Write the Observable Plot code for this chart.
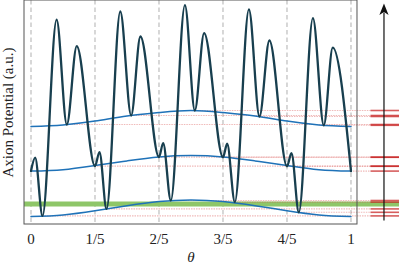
<!DOCTYPE html>
<html><head><meta charset="utf-8">
<script src="https://cdn.jsdelivr.net/npm/d3@7"></script>
<script src="https://cdn.jsdelivr.net/npm/@observablehq/plot@0.6"></script>
<style>
html,body{margin:0;padding:0;background:#fff;}
svg{display:block;}
svg text{font-family:'Liberation Serif', serif;}
</style></head><body><div id="chart"></div>
<script>
// ---- data ----
const thetaTicks = [0, 0.2, 0.4, 0.6, 0.8, 1];
const tickLabels = ["0", "1/5", "2/5", "3/5", "4/5", "1"];

// full axion potential (dark curve): extrema
const darkTheta = [0, 0.013, 0.036, 0.080, 0.112, 0.143,
  0.2, 0.214, 0.236, 0.279, 0.313, 0.342,
  0.4, 0.413, 0.437, 0.481, 0.512, 0.541,
  0.6, 0.613, 0.637, 0.681, 0.714, 0.745,
  0.8, 0.814, 0.837, 0.881, 0.915, 0.943, 1.0];
const darkV = [0.227, 0.294, 0.003, 0.984, 0.46, 0.852,
  0.252, 0.322, 0.038, 1.025, 0.505, 0.90,
  0.297, 0.367, 0.08, 1.057, 0.53, 0.917,
  0.296, 0.364, 0.072, 1.035, 0.50, 0.88,
  0.251, 0.317, 0.021, 0.992, 0.456, 0.844, 0.227];

// three slowly varying branches (blue)
const blueTheta = [0, 0.1, 0.2, 0.3, 0.4, 0.5, 0.6, 0.7, 0.8, 0.9, 1];
const blueUpper = [0.450, 0.458, 0.477, 0.503, 0.520, 0.530, 0.520, 0.503, 0.477, 0.458, 0.450];
const blueMiddle = [0.227, 0.234, 0.255, 0.278, 0.298, 0.305, 0.298, 0.278, 0.255, 0.234, 0.227];
const blueLower = [0.000, 0.008, 0.029, 0.054, 0.075, 0.083, 0.075, 0.054, 0.029, 0.008, 0.000];

// green band level
const greenLevel = [0.063];

// ---- layout constants ----
const xMin = -0.0203, xMax = 1.1516;      // x scale domain (extends right of the plot)
const frameLeft = -0.0203, frameRight = 1.0203;
const yMin = -0.04, yMax = 1.08;
const solidStart = 1.0625;                 // where the level markers become solid
const arrowX = 1.1031, arrowBottom = -0.02, arrowBase = 1.01, arrowShaftTop = 1.02;
const font = "'Liberation Serif', serif";

const dark = darkTheta.map((t, i) => ({t, v: darkV[i]}));
const minima = dark.filter((d, i) => i > 0 && d.v < dark[i - 1].v && (i === dark.length - 1 || d.v < dark[i + 1].v));
const blue = [blueUpper, blueMiddle, blueLower].flatMap((arr, k) => blueTheta.map((t, i) => ({t, v: arr[i], k})));

const arrowHead = {draw(ctx) {
  ctx.moveTo(0, -11); ctx.lineTo(4.6, 0.5); ctx.lineTo(0, -2.5); ctx.lineTo(-4.6, 0.5); ctx.closePath();
}};

const chart = Plot.plot({
  width: 399, height: 266,
  marginLeft: 24, marginRight: 0, marginTop: 0, marginBottom: 42,
  style: {fontFamily: font, fontSize: "15px", background: "white", color: "#222", overflow: "visible"},
  x: {domain: [xMin, xMax], axis: null},
  y: {domain: [yMin, yMax], axis: null},
  marks: [
    Plot.ruleX(thetaTicks, {stroke: "#c2c2c2", strokeWidth: 1.3, strokeDasharray: "4.5,3"}),
    Plot.ruleY(greenLevel, {x1: frameLeft, x2: xMax, stroke: "#8ec668", strokeWidth: 5}),
    Plot.ruleY(minima, {y: "v", x1: "t", x2: solidStart, stroke: "#d9534f", strokeOpacity: 0.4, strokeWidth: 1.1, strokeDasharray: "1.5,1"}),
    Plot.ruleY(minima, {y: "v", x1: solidStart, x2: xMax, stroke: "#c41a1a", strokeOpacity: 0.7, strokeWidth: 1.6}),
    Plot.line(blue, {x: "t", y: "v", z: "k", stroke: "#1f72b8", strokeWidth: 1.5, curve: "natural"}),
    Plot.line(dark, {x: "t", y: "v", stroke: "#183f4f", strokeWidth: 2.3, curve: "monotone-x", strokeLinejoin: "round", strokeLinecap: "round"}),
    Plot.rect([0], {x1: frameLeft, x2: frameRight, y1: yMin, y2: yMax, fill: "none", stroke: "#555", strokeWidth: 1}),
    Plot.link([0], {x1: arrowX, x2: arrowX, y1: arrowBottom, y2: arrowShaftTop, stroke: "#111", strokeWidth: 1.2}),
    Plot.dot([0], {x: arrowX, y: arrowBase, symbol: arrowHead, fill: "#111", stroke: "none"}),
    Plot.axisX(thetaTicks, {tickFormat: (d, i) => tickLabels[i], tickSize: 0, tickPadding: 9, label: null, fontSize: 15, fontFamily: font}),
    Plot.text(["θ"], {x: d3.mean(thetaTicks), frameAnchor: "bottom", dy: 33, lineAnchor: "middle", fontStyle: "italic", fontSize: 15, fontFamily: font}),
    Plot.text(["Axion Potential (a.u.)"], {x: frameLeft, y: (yMin + yMax) / 2, rotate: -90, textAnchor: "middle", lineAnchor: "top", dx: -22, fontSize: 15, fontFamily: font})
  ]
});
document.getElementById("chart").appendChild(chart);
</script>
</body></html>
